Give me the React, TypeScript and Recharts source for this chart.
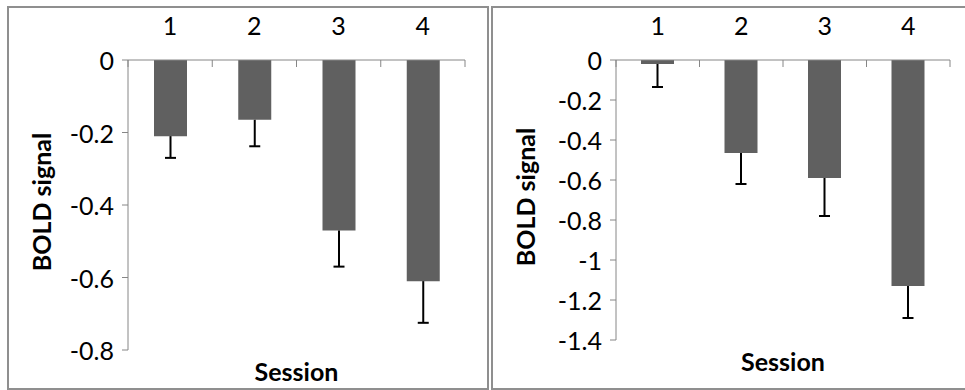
import React from 'react';
import { BarChart, Bar, XAxis, YAxis } from 'recharts';

const SESSIONS = ['1', '2', '3', '4'];

// left panel
const LEFT_MEAN = [-0.21, -0.165, -0.47, -0.61];
const LEFT_ERR = [0.06, 0.073, 0.1, 0.115];
const LEFT_TICKS = [0, -0.2, -0.4, -0.6, -0.8];

// right panel
const RIGHT_MEAN = [-0.02, -0.465, -0.59, -1.13];
const RIGHT_ERR = [0.115, 0.155, 0.19, 0.16];
const RIGHT_TICKS = [0, -0.2, -0.4, -0.6, -0.8, -1, -1.2, -1.4];

const FONT = 'Lato, sans-serif';
const TICK_SIZE = 25;
const TITLE_SIZE = 25;
const AXIS_GREY = '#868686';
const BAR_GREY = '#606060';

// error segment is stacked under the bar so it sits on the same scale
const buildRows = (mean: number[], err: number[]) =>
  SESSIONS.map((s, i) => ({ session: s, mean: mean[i], err: -err[i] }));

const ErrorWhisker = (props: any) => {
  const { x, y, width, height } = props;
  const top = Math.min(y, y + height);
  const bottom = Math.max(y, y + height);
  const cx = x + width / 2;
  return (
    <g stroke="#000" strokeWidth={2}>
      <line x1={cx} y1={top} x2={cx} y2={bottom} />
      <line x1={cx - 5.5} y1={bottom} x2={cx + 5.5} y2={bottom} />
    </g>
  );
};

// category label above the zero line, tick marks on the band edges
const SessionTick = (props: any) => {
  const { x, y, payload, index, visibleTicksCount } = props;
  const half = payload?.offset ?? 0;
  const isLast = index === visibleTicksCount - 1;
  return (
    <g>
      <text x={x} y={y - 35} textAnchor="middle" dominantBaseline="central" fontSize={TICK_SIZE} fontFamily={FONT} fill="#000">
        {payload.value}
      </text>
      <line x1={x - half} y1={y} x2={x - half} y2={y + 7} stroke={AXIS_GREY} />
      {isLast && <line x1={x + half} y1={y} x2={x + half} y2={y + 7} stroke={AXIS_GREY} />}
    </g>
  );
};

const ValueTick = (props: any) => {
  const { x, y, payload } = props;
  return (
    <text x={x} y={y} textAnchor="end" dominantBaseline="central" fontSize={TICK_SIZE} fontFamily={FONT} fill="#000">
      {String(payload.value)}
    </text>
  );
};

interface PanelProps {
  mean: number[];
  err: number[];
  ticks: number[];
  width: number;
  yAxisWidth: number;
  marginRight: number;
  bottomHeight: number;
  titleX: number;
}

const SessionPanel: React.FC<PanelProps> = ({ mean, err, ticks, width, yAxisWidth, marginRight, bottomHeight, titleX }) => {
  const rows = buildRows(mean, err);
  const yMin = Math.min(...ticks);
  return (
    <BarChart width={width} height={390} data={rows} margin={{ top: 0, right: marginRight, bottom: 0, left: 0 }}>
      <XAxis
        xAxisId="top"
        dataKey="session"
        orientation="top"
        height={60}
        axisLine={{ stroke: AXIS_GREY }}
        tickLine={false}
        tickSize={0}
        tickMargin={0}
        tick={<SessionTick />}
        interval={0}
      />
      <XAxis
        xAxisId="bottom"
        dataKey="session"
        orientation="bottom"
        height={bottomHeight}
        axisLine={false}
        tickLine={false}
        tick={false}
        label={(p: any) => {
          const vb = p.viewBox;
          return (
            <text x={vb.x + vb.width / 2} y={vb.y + 21} textAnchor="middle" dominantBaseline="central" fontSize={TITLE_SIZE} fontWeight="bold" fontFamily={FONT} fill="#000">
              Session
            </text>
          );
        }}
      />
      <YAxis
        width={yAxisWidth}
        domain={[yMin, 0]}
        ticks={ticks}
        interval={0}
        axisLine={{ stroke: AXIS_GREY }}
        tickLine={{ stroke: AXIS_GREY }}
        tickSize={6}
        tickMargin={8}
        tick={<ValueTick />}
        label={(p: any) => {
          const vb = p.viewBox;
          const cy = vb.y + vb.height / 2 - 3;
          return (
            <text x={titleX} y={cy} transform={`rotate(-90 ${titleX} ${cy})`} textAnchor="middle" dominantBaseline="central" fontSize={TITLE_SIZE} fontWeight="bold" fontFamily={FONT} fill="#000">
              BOLD signal
            </text>
          );
        }}
      />
      <Bar xAxisId="top" dataKey="mean" stackId="s" fill={BAR_GREY} barSize={33} isAnimationActive={false} />
      <Bar xAxisId="top" dataKey="err" stackId="s" barSize={33} shape={<ErrorWhisker />} isAnimationActive={false} />
    </BarChart>
  );
};

const panelBorder: React.CSSProperties = {
  position: 'absolute',
  top: 6,
  height: 384,
  border: '2px solid #8f8f8f',
  boxSizing: 'border-box',
};

export default function App() {
  return (
    <div style={{ position: 'absolute', left: 0, top: 0, width: 965, height: 390, overflow: 'hidden', background: '#fff', fontFamily: FONT }}>
      <div style={{ ...panelBorder, left: 7, width: 482 }} />
      <div style={{ ...panelBorder, left: 491, width: 490 }} />
      <div style={{ position: 'absolute', left: 0, top: 0 }}>
        <SessionPanel mean={LEFT_MEAN} err={LEFT_ERR} ticks={LEFT_TICKS} width={487} yAxisWidth={128} marginRight={22} bottomHeight={40} titleX={41} />
      </div>
      <div style={{ position: 'absolute', left: 489, top: 0 }}>
        <SessionPanel mean={RIGHT_MEAN} err={RIGHT_ERR} ticks={RIGHT_TICKS} width={476} yAxisWidth={127} marginRight={15} bottomHeight={50} titleX={36} />
      </div>
    </div>
  );
}
